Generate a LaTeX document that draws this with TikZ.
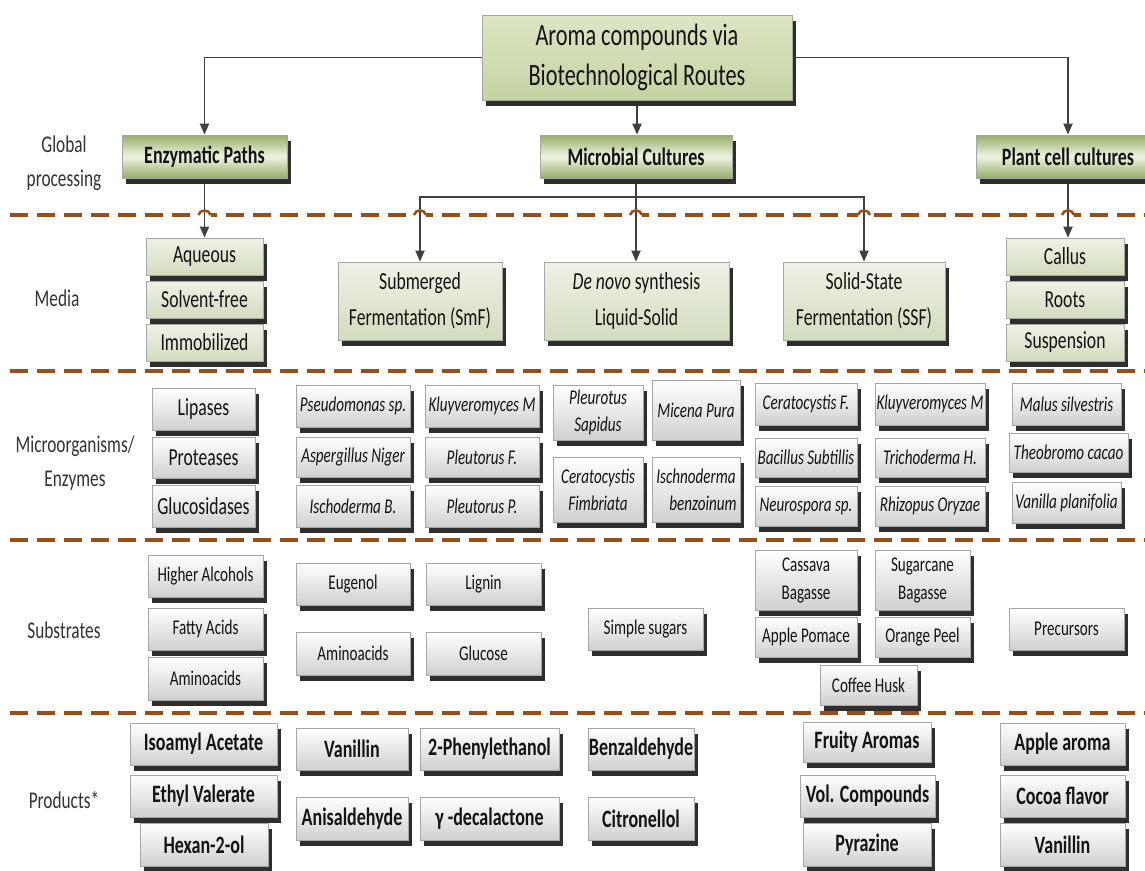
\documentclass[tikz,border=0pt]{standalone}
\usepackage{fontspec}
\setmainfont{Carlito}[FakeStretch=0.72]
\usetikzlibrary{arrows.meta,shadows,backgrounds}
\definecolor{dashbrown}{HTML}{9A4E17}
\definecolor{greenA}{HTML}{DCE6C4}
\definecolor{greenB}{HTML}{C5D3A2}
\definecolor{oliveA}{HTML}{97AE6B}
\definecolor{oliveM}{HTML}{EEF3E1}
\definecolor{medA}{HTML}{EEF2E5}
\definecolor{medB}{HTML}{D2DCBF}
\definecolor{grayB}{HTML}{D0D0D0}
\newcommand{\bx}[7]{\node[#2, minimum width={(#5)-(#3)}, minimum height={(#6)-(#4)}] (#1) at ({((#3)+(#5))/2},{((#4)+(#6))/2}) {#7};}
\tikzset{
  shd/.style={drop shadow={shadow xshift=4pt, shadow yshift=-6pt, fill=black!82, opacity=1}},
  bbase/.style={draw=black!35, line width=0.7pt, inner sep=0pt, align=center, text=black!92, shd},
  titlebox/.style={bbase, top color=greenA, bottom color=greenB, font=\fontsize{31}{40}\selectfont},
  lonebox/.style={bbase, top color=oliveA, bottom color=oliveA, middle color=oliveM, font=\bfseries\fontsize{25}{30}\selectfont},
  medbox/.style={bbase, top color=medA, bottom color=medB, font=\fontsize{24.5}{36}\selectfont},
  wbox/.style={bbase, top color=white, bottom color=grayB, font=\fontsize{24.5}{30}\selectfont},
  spbox/.style={wbox, font=\itshape\fontsize{21}{27}\selectfont},
  subbox/.style={wbox, font=\fontsize{21}{28}\selectfont},
  prodbox/.style={wbox, font=\bfseries\fontsize{25}{30}\selectfont},
  lab/.style={font=\fontsize{24}{34}\selectfont, text=black!80, align=center},
  conn/.style={draw=black!75, line width=1.8pt, -{Triangle[length=11pt,width=9pt]}},
  plainconn/.style={draw=black!75, line width=1.8pt},
  dashline/.style={draw=dashbrown, line width=4pt, dash pattern=on 18pt off 9pt},
  hop/.style={draw=dashbrown, line width=2.5pt},
}
\begin{document}
\begin{tikzpicture}[x=1pt,y=-1pt]
\useasboundingbox (0,0) rectangle (1145,870);

% level 0 and 1
\bx{title}{titlebox}{482}{15}{792}{100}{Aroma compounds via\\Biotechnological Routes}
\bx{enz}{lonebox}{122}{135}{287}{178}{Enzymatic Paths}
\bx{micro}{lonebox}{540}{135}{732}{178}{Microbial Cultures}
\bx{plant}{lonebox}{976}{135}{1160}{178}{Plant cell cultures}

% media
\bx{aqueous}{medbox}{146}{238}{263}{275}{Aqueous}
\bx{solvent}{medbox}{146}{281}{263}{318}{Solvent-free}
\bx{immob}{medbox}{146}{324}{263}{361}{Immobilized}
\bx{smf}{medbox}{338}{262}{502}{340}{Submerged\\Fermentation (SmF)}
\bx{denovo}{medbox}{544}{262}{729}{340}{\textit{De novo} synthesis\\Liquid-Solid}
\bx{ssf}{medbox}{783}{262}{945}{340}{Solid-State\\Fermentation (SSF)}
\bx{callus}{medbox}{1006}{238}{1124}{275}{Callus}
\bx{roots}{medbox}{1006}{281}{1124}{318}{Roots}
\bx{susp}{medbox}{1006}{324}{1124}{361}{Suspension}

% microorganisms / enzymes
\bx{lipases}{wbox}{152}{388}{255}{430}{Lipases}
\bx{proteases}{wbox}{152}{437}{255}{478}{Proteases}
\bx{glucos}{wbox}{152}{485}{255}{527}{Glucosidases}
\bx{pseudo}{spbox}{296}{385}{410}{427}{Pseudomonas sp.}
\bx{asper}{spbox}{296}{437}{410}{477}{Aspergillus Niger}
\bx{ischo}{spbox}{296}{485}{410}{527}{Ischoderma B.}
\bx{kluyA}{spbox}{425}{385}{539}{427}{Kluyveromyces M}
\bx{pleutF}{spbox}{425}{437}{539}{477}{Pleutorus F.}
\bx{pleutP}{spbox}{425}{485}{539}{527}{Pleutorus P.}
\bx{pleurS}{spbox}{553}{385}{643}{440}{Pleurotus\\Sapidus}
\bx{ceratFim}{spbox}{553}{457}{643}{522}{Ceratocystis\\Fimbriata}
\bx{micena}{spbox}{652}{380}{740}{440}{Micena Pura}
\bx{ischn}{spbox}{652}{457}{740}{522}{Ischnoderma\\\hspace*{14pt}benzoinum}
\bx{ceratF}{spbox}{755}{383}{857}{425}{Ceratocystis F.}
\bx{bacil}{spbox}{755}{438}{857}{477}{Bacillus Subtillis}
\bx{neuro}{spbox}{755}{486}{857}{526}{Neurospora sp.}
\bx{kluyB}{spbox}{875}{383}{985}{425}{Kluyveromyces M}
\bx{trich}{spbox}{875}{438}{985}{477}{Trichoderma H.}
\bx{rhiz}{spbox}{875}{486}{985}{526}{Rhizopus Oryzae}
\bx{malus}{spbox}{1012}{383}{1121}{425}{Malus silvestris}
\bx{theo}{spbox}{1009}{433}{1128}{472}{Theobromo cacao}
\bx{vanpl}{spbox}{1012}{482}{1121}{523}{Vanilla planifolia}

% substrates
\bx{higher}{subbox}{148}{555}{263}{597}{Higher Alcohols}
\bx{fatty}{subbox}{148}{608}{263}{650}{Fatty Acids}
\bx{aminoA}{subbox}{148}{657}{263}{700}{Aminoacids}
\bx{eugenol}{subbox}{296}{563}{410}{605}{Eugenol}
\bx{lignin}{subbox}{426}{563}{541}{605}{Lignin}
\bx{aminoB}{subbox}{296}{632}{410}{675}{Aminoacids}
\bx{glucose}{subbox}{426}{632}{541}{675}{Glucose}
\bx{simple}{subbox}{588}{608}{703}{650}{Simple sugars}
\bx{cassava}{subbox}{755}{550}{857}{610}{Cassava\\Bagasse}
\bx{sugarc}{subbox}{875}{550}{970}{610}{Sugarcane\\Bagasse}
\bx{pomace}{subbox}{755}{617}{857}{657}{Apple Pomace}
\bx{orange}{subbox}{875}{617}{970}{657}{Orange Peel}
\bx{coffee}{subbox}{820}{665}{917}{705}{Coffee Husk}
\bx{precurs}{subbox}{1009}{608}{1124}{650}{Precursors}

% products
\bx{isoamyl}{prodbox}{130}{723}{277}{765}{Isoamyl Acetate}
\bx{ethyl}{prodbox}{130}{775}{277}{817}{Ethyl Valerate}
\bx{hexan}{prodbox}{140}{823}{268}{866}{Hexan-2-ol}
\bx{vanA}{prodbox}{296}{728}{408}{770}{Vanillin}
\bx{phenyl}{prodbox}{420}{728}{559}{770}{2-Phenylethanol}
\bx{anisal}{prodbox}{296}{797}{408}{840}{Anisaldehyde}
\bx{decal}{prodbox}{420}{797}{559}{840}{γ -decalactone}
\bx{benzal}{prodbox}{588}{728}{694}{770}{Benzaldehyde}
\bx{citron}{prodbox}{588}{797}{694}{840}{Citronellol}
\bx{fruity}{prodbox}{803}{722}{931}{762}{Fruity Aromas}
\bx{volc}{prodbox}{800}{775}{935}{817}{Vol. Compounds}
\bx{pyraz}{prodbox}{803}{823}{931}{866}{Pyrazine}
\bx{applea}{prodbox}{1000}{723}{1125}{765}{Apple aroma}
\bx{cocoa}{prodbox}{1000}{775}{1125}{817}{Cocoa flavor}
\bx{vanB}{prodbox}{1000}{823}{1125}{866}{Vanillin}

% row labels
\node[lab] (lglobal) at (64,163) {Global\\processing};
\node[lab] (lmedia) at (57,298) {Media};
\node[lab] (lmicro) at (75,463) {Microorganisms/\\Enzymes};
\node[lab] (lsub) at (64,630) {Substrates};
\node[lab] (lprod) at (64,800) {Products*};

\begin{scope}[on background layer]
  \fill[white] (0,0) rectangle (1145,870);
  \draw[dashline] (10,215) -- (1145,215);
  \draw[dashline] (10,371) -- (1145,371);
  \draw[dashline] (10,540) -- (1145,540);
  \draw[dashline] (10,713) -- (1145,713);
  \foreach \x in {204.5,420,636,864,1068} {
    \fill[white] (\x-6,211) rectangle (\x+6,219);
  }
  \path (micro.south) ++(0,19) coordinate (br);
  \draw[conn] (title.west) -| (enz.north);
  \draw[conn] (title.east) -| (plant.north);
  \draw[conn] (title.south) -- (title.south |- micro.north);
  \draw[conn] (enz.south) -- (enz.south |- aqueous.north);
  \draw[conn] (plant.south) -- (plant.south |- callus.north);
  \draw[plainconn] (micro.south) -- (br);
  \draw[conn] (br) -| (smf.north);
  \draw[conn] (br) -| (ssf.north);
  \draw[conn] (br) -- (br |- denovo.north);
  \foreach \x in {204.5,420,636,864,1068} {
    \draw[hop] (\x-6,215) .. controls (\x-5,209) and (\x+5,209) .. (\x+6,215);
  }
\end{scope}
\end{tikzpicture}
\end{document}
